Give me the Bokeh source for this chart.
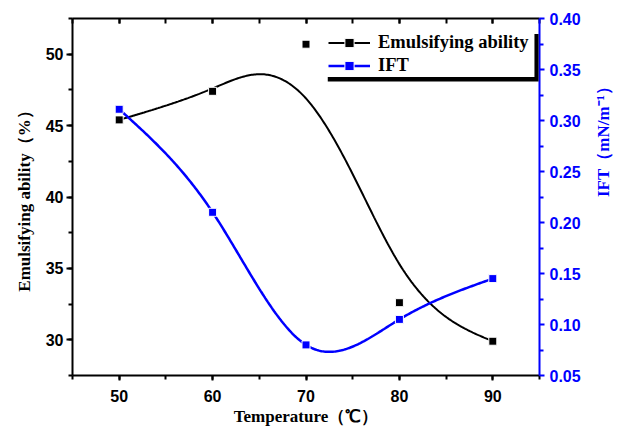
import numpy as np
from bokeh.plotting import figure
from bokeh.models import (Range1d, LinearAxis, SingleIntervalTicker, FixedTicker,
                          PrintfTickFormatter, CustomJSTickFormatter, Legend, LegendItem,
                          BoxAnnotation)
from bokeh.embed import file_html
from bokeh.resources import INLINE

# ---- data ----
temperature = [50, 60, 70, 80, 90]
emulsifying = [45.4, 47.4, 50.7, 32.6, 29.9]
ift = [0.311, 0.210, 0.080, 0.105, 0.145]
# smoothed fit curve of emulsifying ability as drawn in the figure
emul_fit_x = [50, 55, 60, 65, 70, 75, 80, 85, 90]
emul_fit_y = [45.4, 46.4, 47.6, 48.6, 46.9, 41.6, 35.3, 31.6, 29.9]
ift_ticks = [0.05, 0.10, 0.15, 0.20, 0.25, 0.30, 0.35, 0.40]


def natural_spline(xs, ys, num=300):
    x = np.asarray(xs, float)
    y = np.asarray(ys, float)
    n = len(x)
    h = np.diff(x)
    A = np.zeros((n, n))
    r = np.zeros(n)
    A[0, 0] = A[-1, -1] = 1
    for i in range(1, n - 1):
        A[i, i - 1] = h[i - 1]
        A[i, i] = 2 * (h[i - 1] + h[i])
        A[i, i + 1] = h[i]
        r[i] = 6 * ((y[i + 1] - y[i]) / h[i] - (y[i] - y[i - 1]) / h[i - 1])
    M = np.linalg.solve(A, r)
    xx = np.linspace(x[0], x[-1], num)
    idx = np.clip(np.searchsorted(x, xx) - 1, 0, n - 2)
    x0 = x[idx]
    x1 = x[idx + 1]
    hh = x1 - x0
    a = x1 - xx
    b = xx - x0
    yy = (M[idx] * a ** 3 / (6 * hh) + M[idx + 1] * b ** 3 / (6 * hh)
          + (y[idx] / hh - M[idx] * hh / 6) * a + (y[idx + 1] / hh - M[idx + 1] * hh / 6) * b)
    return xx, yy


p = figure(width=625, height=429, x_range=Range1d(45, 95), y_range=Range1d(27.5, 52.5),
           output_backend="svg", toolbar_location=None,
           min_border_left=72, min_border_right=84, min_border_top=18, min_border_bottom=54)
p.extra_y_ranges = {"ift": Range1d(0.05, 0.40)}
p.grid.visible = False
p.outline_line_color = None
p.background_fill_color = "white"
p.border_fill_color = "white"

TICK_FONT = "Liberation Sans"
LABEL_FONT = "Liberation Serif"


def style_axis(ax, color="black"):
    ax.axis_line_color = color
    ax.axis_line_width = 2
    ax.major_tick_line_color = color
    ax.minor_tick_line_color = color
    ax.major_tick_line_width = 2
    ax.minor_tick_line_width = 2
    ax.major_label_text_color = color
    ax.major_label_text_font = TICK_FONT
    ax.major_label_text_font_style = "bold"
    ax.major_label_text_font_size = "16px"
    ax.axis_label_text_font = LABEL_FONT
    ax.axis_label_text_font_style = "bold"
    ax.axis_label_text_font_size = "17px"
    ax.axis_label_text_color = color


# bottom axis
xa = p.xaxis[0]
xa.ticker = SingleIntervalTicker(interval=10, num_minor_ticks=2)
style_axis(xa)
xa.axis_label = "Temperature（℃）"
xa.major_tick_in = 0
xa.major_tick_out = 5
xa.minor_tick_in = 0
xa.minor_tick_out = 4
xa.major_label_standoff = 9
xa.axis_label_standoff = 2

# left axis
ya = p.yaxis[0]
ya.ticker = SingleIntervalTicker(interval=5, num_minor_ticks=2)
style_axis(ya)
ya.axis_label = "Emulsifying ability（%）"
ya.major_tick_in = 0
ya.major_tick_out = 6
ya.minor_tick_in = 0
ya.minor_tick_out = 4
ya.major_label_standoff = 3
ya.axis_label_standoff = 9

# top axis (ticks only)
top = LinearAxis(ticker=SingleIntervalTicker(interval=10, num_minor_ticks=2),
                 formatter=CustomJSTickFormatter(code="return ''"))
style_axis(top)
top.major_tick_in = 5
top.major_tick_out = 0
top.minor_tick_in = 5
top.minor_tick_out = 0
top.major_label_standoff = 0
p.add_layout(top, "above")

# right axis (IFT)
minor_ift = [round(t + 0.025, 3) for t in ift_ticks[:-1]]
ra = LinearAxis(y_range_name="ift",
                ticker=FixedTicker(ticks=ift_ticks, minor_ticks=minor_ift),
                formatter=PrintfTickFormatter(format="%.2f"))
style_axis(ra, "blue")
ra.major_tick_in = 0
ra.major_tick_out = 5
ra.minor_tick_in = 0
ra.minor_tick_out = 4
ra.major_label_standoff = 5
ra.axis_label = "IFT（mN/m⁻¹）"
ra.axis_label_standoff = 20
ra.axis_label_orientation = np.pi / 2
p.add_layout(ra, "right")

# curves and points
ex, ey = natural_spline(emul_fit_x, emul_fit_y)
ix, iy = natural_spline(temperature, ift)
l1 = p.line(ex, ey, line_color="black", line_width=2)
l2 = p.line(ix, iy, line_color="blue", line_width=2.5, y_range_name="ift")
s1 = p.scatter(temperature, emulsifying, marker="square", size=8,
               fill_color="black", line_color="white", line_width=1)
s2 = p.scatter(temperature, ift, marker="square", size=8, y_range_name="ift",
               fill_color="blue", line_color="white", line_width=1)

# legend box with shadow
p.add_layout(BoxAnnotation(left=72.33, right=94.9, top=51.42, bottom=48.09,
                           fill_color="black", fill_alpha=1, line_alpha=0))
p.add_layout(BoxAnnotation(left=71.79, right=94.46, top=51.78, bottom=48.41,
                           fill_color="white", fill_alpha=1, line_alpha=0))

legend = Legend(items=[LegendItem(label="Emulsifying ability", renderers=[l1, s1]),
                       LegendItem(label="IFT", renderers=[l2, s2])],
                location=(256, 298), orientation="vertical",
                background_fill_alpha=0, border_line_alpha=0,
                padding=0, margin=0, spacing=0,
                glyph_width=42, glyph_height=23, label_height=23, label_standoff=8,
                label_text_font=LABEL_FONT, label_text_font_style="bold",
                label_text_font_size="18.5px", label_text_color="black")
p.add_layout(legend)

open("out.html", "w").write(file_html(p, INLINE))
